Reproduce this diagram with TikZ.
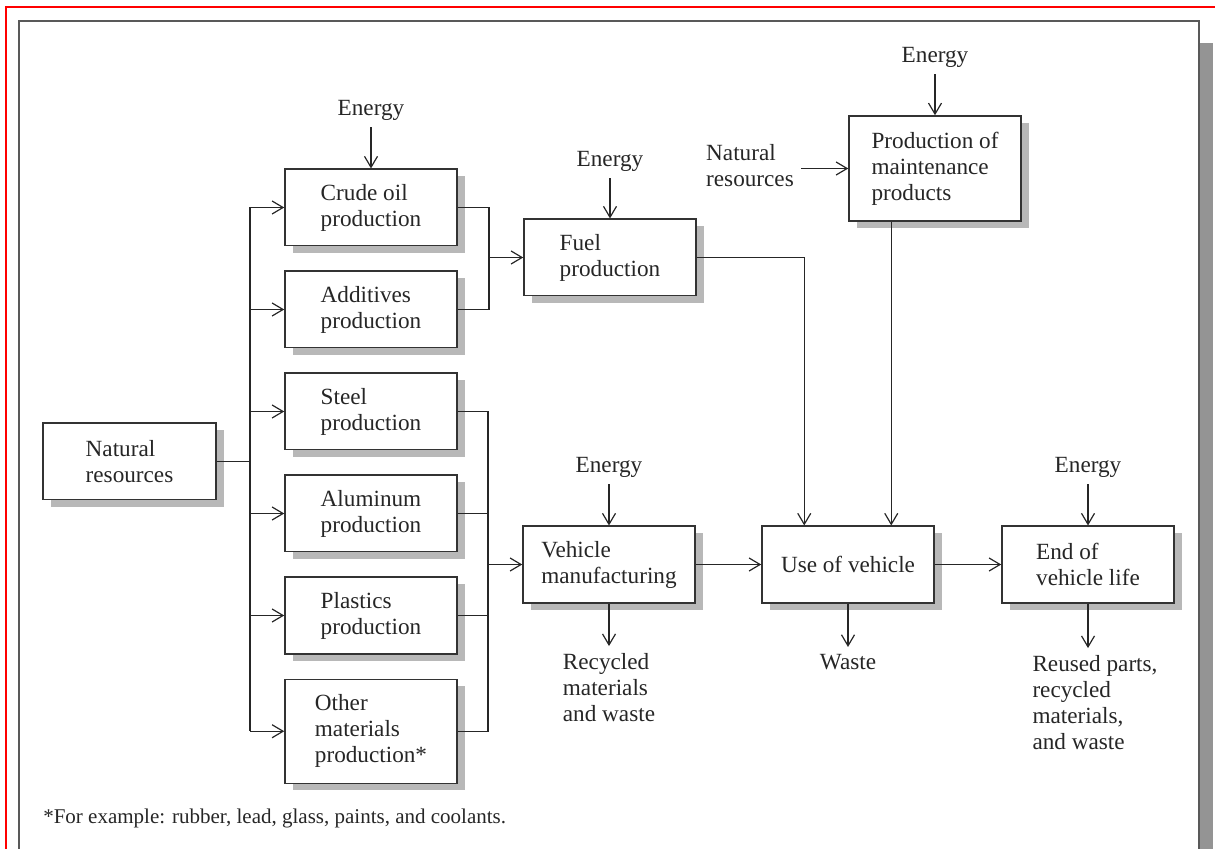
\documentclass[tikz,border=0pt]{standalone}
\usepackage{fontspec}
\setmainfont{Liberation Serif}
\usetikzlibrary{positioning,arrows.meta,shadows}

\begin{document}
\begin{tikzpicture}[x=0.5pt, y=0.5pt, color=black!85, line width=0.6pt,
                    >={Straight Barb[length=5.5pt,width=6.5pt]}, node distance=12pt,
                    box node/.style={rectangle,draw=black!80,line width=0.75pt,fill=white,align=left,
                      minimum width=86pt,minimum height=38.25pt,font=\fontsize{11.6}{13}\selectfont,
                      drop shadow={shadow xshift=4pt,shadow yshift=-3.5pt,fill=black!28,opacity=1}},
                    text node/.style={align=left,font=\fontsize{11.6}{13}\selectfont}]

  \useasboundingbox (0,0) rectangle (1215,-849);
  \clip (0,0) rectangle (1215,-849);

  % frame
  \fill[black!42] (1200,-43) rectangle (1213,-900);
  \draw[black!65, line width=0.75pt] (19,-21) rectangle (1199,-900);
  \draw[red, line width=1pt] (6,-849) -- (6,-7) -- (1215,-7);

  \node[box node, minimum width=86.5pt] (nat) at (129.5,-461.5) {Natural\\resources};
  \node[box node] (crude) at (371,-207.5) {Crude oil\\production};
  \node[box node] (add) [below=of crude] {Additives\\production};
  \node[box node] (steel) [below=of add] {Steel\\production};
  \node[box node] (alu) [below=of steel] {Aluminum\\production};
  \node[box node] (plast) [below=of alu] {Plastics\\production};
  \node[box node, minimum height=52pt] (other) [below=of plast] {Other\\materials\\production*};
  \node[box node] (fuel) at (610,-257.5) {Fuel\\production};
  \node[box node, minimum height=52.5pt] (maint) at (935,-168.5) {Production of\\maintenance\\products};
  \node[box node] (vm) at (609,-564.5) {Vehicle\\manufacturing};
  \node[box node] (use) at (848,-564.5) {Use of vehicle};
  \node[box node] (evl) at (1088,-564.5) {End of\\vehicle life};

  \node[text node] (e1) at (371,-110) {Energy};
  \node[text node] (e2) at (610,-161) {Energy};
  \node[text node] (e3) at (935,-57) {Energy};
  \node[text node] (e4) at (609,-467) {Energy};
  \node[text node] (e5) at (1088,-467) {Energy};
  \node[text node] (nat2) at (750,-166) {Natural\\resources};
  \node[text node] (rec) at (609,-687.5) {Recycled\\materials\\and waste};
  \node[text node] (waste) at (848,-662) {Waste};
  \node[text node] (reuse) at (1095,-702.5) {Reused parts,\\recycled\\materials,\\and waste};
  \node[text node, anchor=west, font=\fontsize{10.5}{12}\selectfont] (foot) at (36,-818)
    {*For example: rubber, lead, glass, paints, and coolants.};

  \coordinate (lbus) at (250,0);
  \coordinate (ra) at (489,0);
  \coordinate (rb) at (488,0);

  % materials in
  \draw (nat.east) -- (nat.east -| lbus);
  \draw (crude.west -| lbus) -- (other.west -| lbus);
  \foreach \n in {crude,add,steel,alu,plast,other}
    \draw[->] (\n.west -| lbus) -- (\n.west);

  % materials out
  \draw (crude.east) -| (ra |- add.east) -- (add.east);
  \draw[->] (ra |- fuel.west) -- (fuel.west);
  \draw (steel.east) -| (rb |- other.east) -- (other.east);
  \foreach \n in {alu,plast}
    \draw (\n.east) -- (\n.east -| rb);
  \draw[->] (rb |- vm.west) -- (vm.west);

  \draw[->] (fuel.east) -| ([xshift=21.5pt]use.north west);
  \draw[->] ([xshift=21.5pt]maint.south west) -- ([xshift=21.5pt]maint.south west |- use.north);
  \draw[->] (nat2.east |- maint.west) -- (maint.west);
  \draw[->] (evl.south) -- (evl.south |- reuse.north);

  \path[->]
    (e1) edge (crude)
    (e2) edge (fuel)
    (e3) edge (maint)
    (e4) edge (vm)
    (e5) edge (evl)
    (vm) edge (use)
         edge (rec)
    (use) edge (evl)
          edge (waste);

\end{tikzpicture}
\end{document}
